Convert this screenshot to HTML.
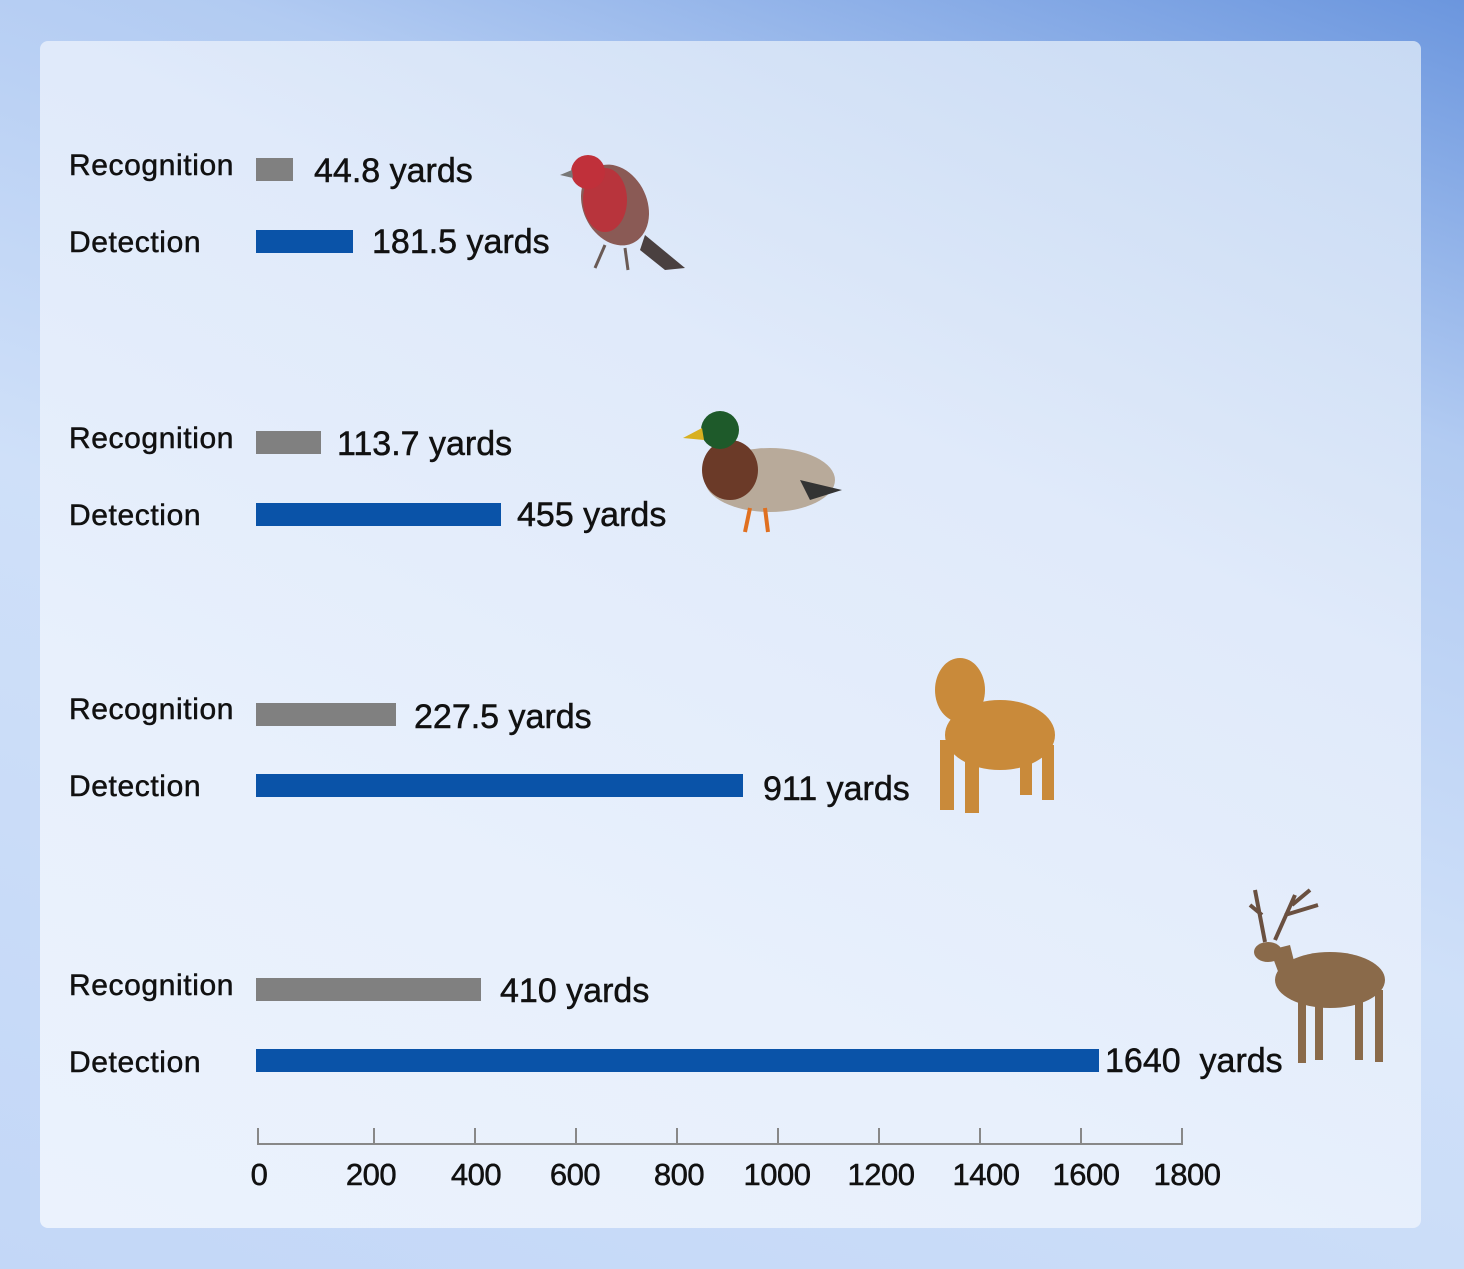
<!DOCTYPE html>
<html><head><style>
html,body{margin:0;padding:0}
body{width:1464px;height:1269px;position:relative;overflow:hidden;font-family:"Liberation Sans",sans-serif;
background:linear-gradient(200deg,#6b96de 0%,#b2cbf2 25%,#cfe0f9 55%,#c3d7f7 100%);}
.card{position:absolute;left:40px;top:41px;width:1381px;height:1187px;border-radius:8px;
background:linear-gradient(205deg,#c8daf3 0%,#e0eafa 35%,#e8f0fc 70%,#ebf2fd 100%);}
.lab{position:absolute;left:69px;font-size:30px;color:#111;letter-spacing:0.6px;line-height:1;-webkit-text-stroke:0.5px #111}
.val{position:absolute;font-size:34px;color:#111;letter-spacing:0px;line-height:1;-webkit-text-stroke:0.5px #111}
.bar{position:absolute;left:256px;height:23px}
.g{background:#808080}.b{background:#0a53a8}
.tick{position:absolute;top:1128px;width:2px;height:17px;background:#888}
.tl{position:absolute;top:1157px;font-size:31px;color:#111;letter-spacing:-0.5px;transform:translateX(-50%);-webkit-text-stroke:0.5px #111}
</style></head><body>
<div class="card"></div>

<div class="lab" style="top:151px">Recognition</div>
<div class="bar g" style="top:158px;width:37px"></div>
<div class="val" style="left:314px;top:154px">44.8 yards</div>
<div class="lab" style="top:228px">Detection</div>
<div class="bar b" style="top:230px;width:97px"></div>
<div class="val" style="left:372px;top:225px">181.5 yards</div>

<div class="lab" style="top:424px">Recognition</div>
<div class="bar g" style="top:431px;width:65px"></div>
<div class="val" style="left:337px;top:427px">113.7 yards</div>
<div class="lab" style="top:501px">Detection</div>
<div class="bar b" style="top:503px;width:245px"></div>
<div class="val" style="left:517px;top:498px">455 yards</div>

<div class="lab" style="top:695px">Recognition</div>
<div class="bar g" style="top:703px;width:140px"></div>
<div class="val" style="left:414px;top:700px">227.5 yards</div>
<div class="lab" style="top:772px">Detection</div>
<div class="bar b" style="top:774px;width:487px"></div>
<div class="val" style="left:763px;top:772px">911 yards</div>

<div class="lab" style="top:971px">Recognition</div>
<div class="bar g" style="top:978px;width:225px"></div>
<div class="val" style="left:500px;top:974px">410 yards</div>
<div class="lab" style="top:1048px">Detection</div>
<div class="bar b" style="top:1049px;width:843px"></div>
<div class="val" style="left:1105px;top:1044px">1640&nbsp; yards</div>

<div style="position:absolute;left:258px;top:1143px;width:925px;height:2px;background:#888"></div>
<div class="tick" style="left:257px"></div><div class="tick" style="left:373px"></div>
<div class="tick" style="left:474px"></div><div class="tick" style="left:575px"></div>
<div class="tick" style="left:676px"></div><div class="tick" style="left:777px"></div>
<div class="tick" style="left:878px"></div><div class="tick" style="left:979px"></div>
<div class="tick" style="left:1080px"></div><div class="tick" style="left:1181px"></div>
<div class="tl" style="left:259px">0</div><div class="tl" style="left:371px">200</div>
<div class="tl" style="left:476px">400</div><div class="tl" style="left:575px">600</div>
<div class="tl" style="left:679px">800</div><div class="tl" style="left:777px">1000</div>
<div class="tl" style="left:881px">1200</div><div class="tl" style="left:986px">1400</div>
<div class="tl" style="left:1086px">1600</div><div class="tl" style="left:1187px">1800</div>

<svg style="position:absolute;left:0;top:0" width="1464" height="1269">
 <g>
  <ellipse cx="615" cy="205" rx="32" ry="42" fill="#8a5a55" transform="rotate(-25 615 205)"/>
  <ellipse cx="605" cy="200" rx="22" ry="32" fill="#b8343c"/>
  <circle cx="588" cy="172" r="17" fill="#c0303a"/>
  <polygon points="572,170 560,175 573,178" fill="#777"/>
  <polygon points="645,235 685,268 665,270 640,250" fill="#4a4040"/>
  <line x1="605" y1="245" x2="595" y2="268" stroke="#6a5a55" stroke-width="3"/>
  <line x1="625" y1="248" x2="628" y2="270" stroke="#6a5a55" stroke-width="3"/>
 </g>
 <g>
  <ellipse cx="770" cy="480" rx="65" ry="32" fill="#b8aa9a"/>
  <ellipse cx="730" cy="470" rx="28" ry="30" fill="#6b3a28"/>
  <circle cx="720" cy="430" r="19" fill="#1e5a2a"/>
  <polygon points="702,428 683,438 704,440" fill="#d8b020"/>
  <polygon points="800,480 842,490 810,500" fill="#333"/>
  <line x1="750" y1="508" x2="745" y2="532" stroke="#e07020" stroke-width="4"/>
  <line x1="765" y1="508" x2="768" y2="532" stroke="#e07020" stroke-width="4"/>
 </g>
 <g fill="#c98a3a">
  <ellipse cx="1000" cy="735" rx="55" ry="35"/>
  <ellipse cx="960" cy="690" rx="25" ry="32"/>
  <rect x="940" y="740" width="14" height="70"/>
  <rect x="965" y="745" width="14" height="68"/>
  <rect x="1020" y="745" width="12" height="50"/>
  <rect x="1042" y="745" width="12" height="55"/>
 </g>
 <g fill="#8a6a4a">
  <ellipse cx="1330" cy="980" rx="55" ry="28"/>
  <polygon points="1270,950 1290,945 1300,985 1285,990"/>
  <ellipse cx="1268" cy="952" rx="14" ry="10"/>
  <rect x="1298" y="995" width="8" height="68"/>
  <rect x="1315" y="995" width="8" height="65"/>
  <rect x="1355" y="995" width="8" height="65"/>
  <rect x="1375" y="990" width="8" height="72"/>
  <path d="M1265 942 L1255 890 M1262 915 L1250 905 M1275 940 L1295 895 M1285 915 L1318 905 M1292 905 L1310 890" stroke="#6a5040" stroke-width="4" fill="none"/>
 </g>
</svg>
</body></html>
